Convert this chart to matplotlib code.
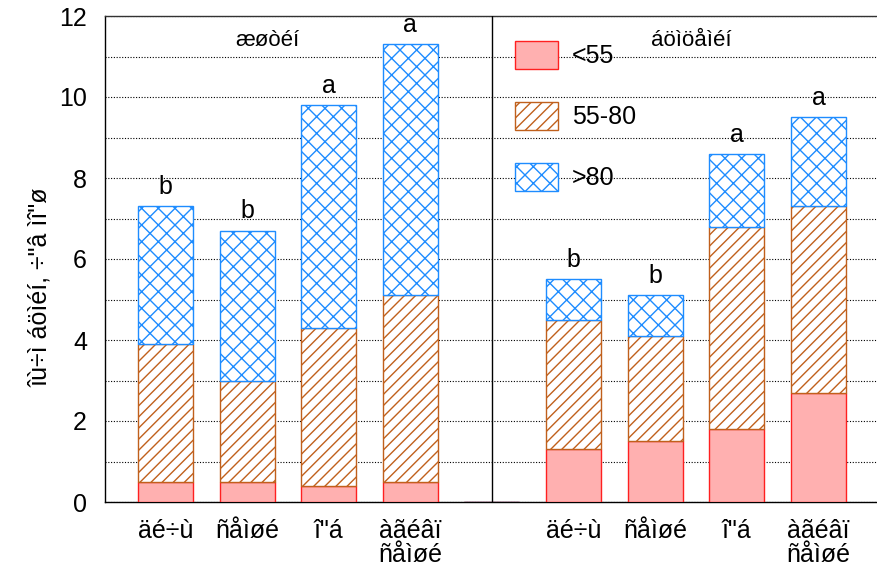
import matplotlib
matplotlib.use("Agg")
import matplotlib.pyplot as plt
import numpy as np

plt.rcParams['font.family'] = ['Liberation Sans', 'DejaVu Sans']
plt.rcParams['hatch.linewidth'] = 1.0

# Data
positions = [0, 1, 2, 3, 4, 5, 6, 7, 8]
tick_positions = [0, 1, 2, 3, 5, 6, 7, 8]
tick_labels = ["äé÷ù", "ñåìøé", "î\"á", "àãéâï\nñåìøé",
               "äé÷ù", "ñåìøé", "î\"á", "àãéâï\nñåìøé"]
low = [0.5, 0.5, 0.4, 0.5, 0.0, 1.3, 1.5, 1.8, 2.7]      # <55
mid = [3.4, 2.5, 3.9, 4.6, 0.0, 3.2, 2.6, 5.0, 4.6]      # 55-80
high = [3.4, 3.7, 5.5, 6.2, 0.0, 1.0, 1.0, 1.8, 2.2]     # >80
letters = ["b", "b", "a", "a", "", "b", "b", "a", "a"]
series_names = ["<55", "55-80", ">80"]
group_names = ["æøòéí", "áöìöåìéí"]
ylabel = "îù÷ì áöìéí, ÷\"â ìî\"ø"

W, H = 877, 569
fig = plt.figure(figsize=(W / 100, H / 100), dpi=100)
ax = fig.add_axes([105 / W, (H - 502) / H, (W - 105) / W, (502 - 16) / H])

width = 0.674
low_a = np.array(low)
mid_a = np.array(mid)
high_a = np.array(high)

b1 = ax.bar(positions, low_a, width, color='#FFB0B0', edgecolor='#FF2020',
            linewidth=1.0, label=series_names[0], zorder=3)
b2 = ax.bar(positions, mid_a, width, bottom=low_a, facecolor='white',
            edgecolor='#C0601C', hatch='///', linewidth=1.0,
            label=series_names[1], zorder=3)
b3 = ax.bar(positions, high_a, width, bottom=low_a + mid_a, facecolor='white',
            edgecolor='#1E8CFF', hatch='xx', linewidth=1.0,
            label=series_names[2], zorder=3)

totals = low_a + mid_a + high_a
for p, t, l in zip(positions, totals, letters):
    if l:
        ax.text(p, t + 0.3, l, ha='center', va='baseline', fontsize=18, zorder=5)

ax.text(1.25, 11.26, group_names[0], ha='center', va='baseline', fontsize=16)
ax.text(6.44, 11.26, group_names[1], ha='center', va='baseline', fontsize=16)

ax.axvline(4, color='black', linewidth=1.0, zorder=4)

ax.set_xlim(-0.741, 8.717)
ax.set_ylim(0, 12)
ax.set_yticks(np.arange(0, 13, 2))
ax.set_yticks(np.arange(0, 13, 1), minor=True)
ax.tick_params(axis='y', which='both', length=0, pad=13, labelsize=18)
ax.set_xticks(tick_positions)
ax.set_xticklabels(tick_labels, fontsize=18, linespacing=1.0)
ax.tick_params(axis='x', length=0, pad=12)

ax.grid(axis='y', which='both', linestyle=(0, (1, 1.5)), color='black',
        linewidth=0.8, zorder=0)
ax.set_axisbelow(True)

for s in ['left', 'bottom']:
    ax.spines[s].set_color('black')
    ax.spines[s].set_linewidth(1.0)
ax.spines['top'].set_color('#333333')
ax.spines['top'].set_linewidth(1.0)
ax.spines['right'].set_visible(False)

ax.set_ylabel(ylabel, fontsize=18)
ax.yaxis.label.set_va('center')
ax.yaxis.set_label_coords((40 - 105) / 772, (502 - 287) / 486)

fs = 18
em = fs * 100 / 72
hh = (28 / em - 0.245) / 0.65
leg = ax.legend(handles=[b1, b2, b3], loc='upper left',
                bbox_to_anchor=(515 / W, 1 - 41 / H), bbox_transform=fig.transFigure,
                frameon=False, fontsize=fs, handlelength=43 / em,
                handleheight=hh, handletextpad=14 / em,
                labelspacing=(61 - 28) / em, borderpad=0, borderaxespad=0)

fig.savefig("out.png", dpi=100)
